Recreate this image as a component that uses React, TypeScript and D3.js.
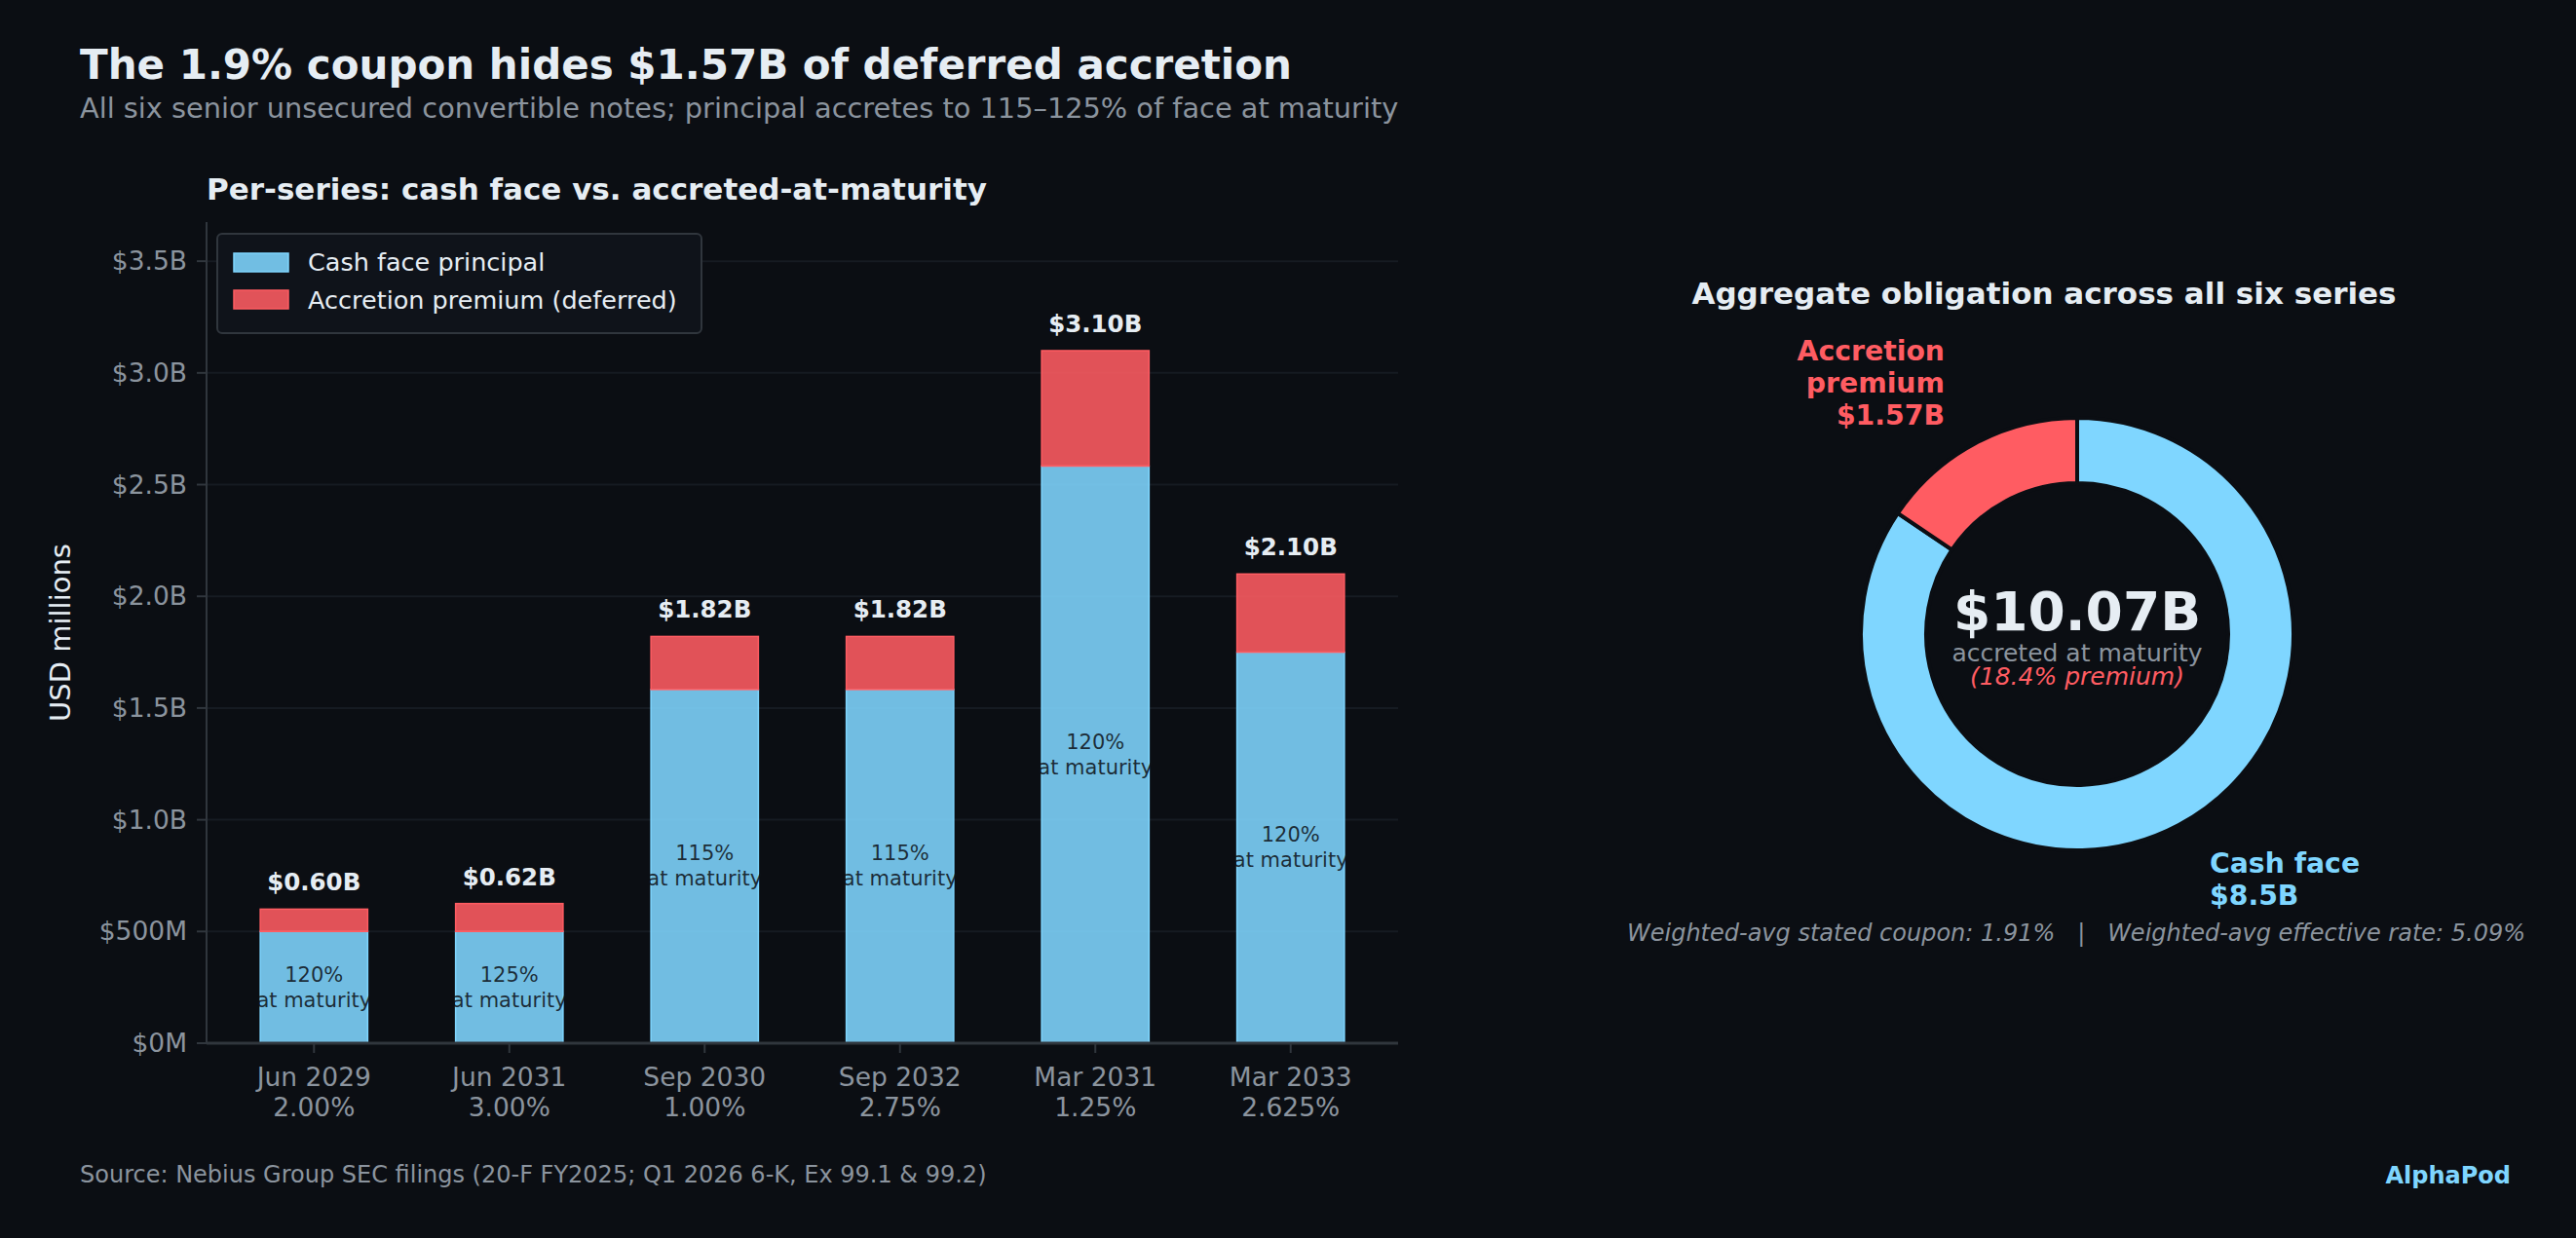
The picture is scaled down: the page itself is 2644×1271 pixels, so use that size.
import React from "react";
import * as d3 from "d3";

// six senior unsecured convertible notes
const maturities = ["Jun 2029", "Jun 2031", "Sep 2030", "Sep 2032", "Mar 2031", "Mar 2033"];
const coupons = ["2.00%", "3.00%", "1.00%", "2.75%", "1.25%", "2.625%"];
const cashFace = [500, 500, 1583, 1583, 2583, 1750]; // USD millions
const accretionPct = [120, 125, 115, 115, 120, 120]; // % of face at maturity
const yTicks = [0, 500, 1000, 1500, 2000, 2500, 3000, 3500];
const statedCoupon = 1.91;
const effectiveRate = 5.09;

const W = 2644;
const H = 1271;
const BG = "#0b0e13";
const TEXT = "#e6edf3";
const MUTED = "#8b949e";
const CASH = "#7fd6ff";
const PREM = "#ff5c62";
const FONT = "'DejaVu Sans', sans-serif";

// python-style half-even rounding to 2 places
const fix2 = (v: number) => {
  const s = v * 100;
  const f = Math.floor(s);
  const r = Math.abs(s - f - 0.5) < 1e-9 ? (f % 2 === 0 ? f : f + 1) : Math.round(s);
  return (r / 100).toFixed(2);
};
const fmtAxis = (v: number) => (v === 0 ? "$0M" : v < 1000 ? `$${v}M` : `$${(v / 1000).toFixed(1)}B`);

const accreted = cashFace.map((c, i) => (c * accretionPct[i]) / 100);
const premium = accreted.map((a, i) => a - cashFace[i]);
const cashTotal = d3.sum(cashFace);
const premTotal = d3.sum(premium);
const grandTotal = cashTotal + premTotal;

const BarPanel = () => {
  const left = 212;
  const right = 1435;
  const top = 228;
  const bottom = 1071;
  const x = d3.scaleLinear().domain([-0.55, maturities.length - 0.45]).range([left, right]);
  const y = d3.scaleLinear().domain([0, 3675]).range([bottom, top]);
  const bw = x(0.55) - x(0);

  return (
    <g>
      <text x={left} y={205} fill={TEXT} fontSize={31} fontWeight="bold">
        Per-series: cash face vs. accreted-at-maturity
      </text>
      {yTicks.map((t) => (
        <g key={t}>
          <line x1={left} x2={right} y1={y(t)} y2={y(t)} stroke="#161b22" strokeWidth={2} />
          <line x1={left - 10} x2={left} y1={y(t)} y2={y(t)} stroke="#30363d" strokeWidth={2} />
          <text x={left - 20} y={y(t) + 9} fill={MUTED} fontSize={26.5} textAnchor="end">
            {fmtAxis(t)}
          </text>
        </g>
      ))}
      <text
        transform={`translate(72,${(top + bottom) / 2}) rotate(-90)`}
        fill={TEXT}
        fontSize={29}
        textAnchor="middle"
      >
        USD millions
      </text>
      {maturities.map((m, i) => {
        const cx = x(i);
        const cTop = y(cashFace[i]);
        const aTop = y(accreted[i]);
        const mid = y(cashFace[i] / 2);
        return (
          <g key={m}>
            <rect
              x={cx - bw / 2}
              y={cTop}
              width={bw}
              height={bottom - cTop}
              fill={CASH}
              fillOpacity={0.88}
              stroke={CASH}
              strokeWidth={1.5}
            />
            <rect
              x={cx - bw / 2}
              y={aTop}
              width={bw}
              height={cTop - aTop}
              fill={PREM}
              fillOpacity={0.88}
              stroke={PREM}
              strokeWidth={1.5}
            />
            <text x={cx} y={aTop - 19} fill={TEXT} fontSize={24.5} fontWeight="bold" textAnchor="middle">
              {`$${fix2(accreted[i] / 1000)}B`}
            </text>
            <text x={cx} y={mid - 6} fill="#0d1117" fillOpacity={0.85} fontSize={21} textAnchor="middle">
              {`${accretionPct[i]}%`}
            </text>
            <text x={cx} y={mid + 20} fill="#0d1117" fillOpacity={0.85} fontSize={21} textAnchor="middle">
              at maturity
            </text>
            <line x1={cx} x2={cx} y1={bottom} y2={bottom + 10} stroke="#30363d" strokeWidth={2} />
            <text x={cx} y={1115} fill={MUTED} fontSize={26.5} textAnchor="middle">
              {m}
            </text>
            <text x={cx} y={1146} fill={MUTED} fontSize={26.5} textAnchor="middle">
              {coupons[i]}
            </text>
          </g>
        );
      })}
      <line x1={left} x2={left} y1={top} y2={bottom} stroke="#30363d" strokeWidth={2} />
      <line x1={left} x2={right} y1={bottom} y2={bottom} stroke="#30363d" strokeWidth={3} />
      {/* legend */}
      <g>
        <rect x={223} y={240} width={497} height={102} rx={5} fill="#0f131a" stroke="#30363d" strokeWidth={2} />
        <rect x={240} y={260} width={56} height={19} fill={CASH} fillOpacity={0.88} stroke={CASH} strokeWidth={1.5} />
        <text x={316} y={278} fill={TEXT} fontSize={25.5}>
          Cash face principal
        </text>
        <rect x={240} y={298} width={56} height={19} fill={PREM} fillOpacity={0.88} stroke={PREM} strokeWidth={1.5} />
        <text x={316} y={317} fill={TEXT} fontSize={25.5}>
          Accretion premium (deferred)
        </text>
      </g>
    </g>
  );
};

const DonutPanel = () => {
  const cx = 2132;
  const cy = 651;
  const outer = 222;
  const inner = 155;
  const pie = d3
    .pie<number>()
    .sort(null)
    .value((d) => d)
    .startAngle(0)
    .endAngle(2 * Math.PI);
  const arc = d3.arc<d3.PieArcDatum<number>>().innerRadius(inner).outerRadius(outer);
  const slices = pie([cashTotal, premTotal]);
  const colors = [CASH, PREM];

  return (
    <g>
      <text x={2098} y={312} fill={TEXT} fontSize={31} fontWeight="bold" textAnchor="middle">
        Aggregate obligation across all six series
      </text>
      <g transform={`translate(${cx},${cy})`}>
        {slices.map((s, i) => (
          <path key={i} d={arc(s) || ""} fill={colors[i]} stroke={BG} strokeWidth={4} />
        ))}
        <text y={-4} fill={TEXT} fontSize={55} fontWeight="bold" textAnchor="middle">
          {`$${fix2(grandTotal / 1000)}B`}
        </text>
        <text y={28} fill={MUTED} fontSize={25} textAnchor="middle">
          accreted at maturity
        </text>
        <text y={52} fill={PREM} fontSize={25} fontStyle="italic" textAnchor="middle">
          {`(${((premTotal / cashTotal) * 100).toFixed(1)}% premium)`}
        </text>
      </g>
      <g fill={PREM} fontSize={28.3} fontWeight="bold" textAnchor="end">
        <text x={1996} y={370}>Accretion</text>
        <text x={1996} y={403}>premium</text>
        <text x={1996} y={436}>{`$${fix2(premTotal / 1000)}B`}</text>
      </g>
      <g fill={CASH} fontSize={28.3} fontWeight="bold">
        <text x={2268} y={896}>Cash face</text>
        <text x={2268} y={929}>{`$${(cashTotal / 1000).toFixed(1)}B`}</text>
      </g>
      <text x={2131} y={966} fill={MUTED} fontSize={24} fontStyle="italic" textAnchor="middle" xmlSpace="preserve">
        {`Weighted-avg stated coupon: ${statedCoupon.toFixed(2)}%   |   Weighted-avg effective rate: ${effectiveRate.toFixed(2)}%`}
      </text>
    </g>
  );
};

export default function App() {
  return (
    <svg
      width={W}
      height={H}
      style={{ position: "absolute", left: 0, top: 0, display: "block" }}
      fontFamily={FONT}
    >
      <rect width={W} height={H} fill={BG} />
      <text x={82} y={81} fill={TEXT} fontSize={42} fontWeight="bold">
        The 1.9% coupon hides $1.57B of deferred accretion
      </text>
      <text x={82} y={121} fill={MUTED} fontSize={28.8}>
        All six senior unsecured convertible notes; principal accretes to 115–125% of face at maturity
      </text>
      <BarPanel />
      <DonutPanel />
      <text x={82} y={1214} fill={MUTED} fontSize={24}>
        Source: Nebius Group SEC filings (20-F FY2025; Q1 2026 6-K, Ex 99.1 &amp; 99.2)
      </text>
      <text x={2577} y={1215} fill={CASH} fontSize={24} fontWeight="bold" textAnchor="end">
        AlphaPod
      </text>
    </svg>
  );
}
